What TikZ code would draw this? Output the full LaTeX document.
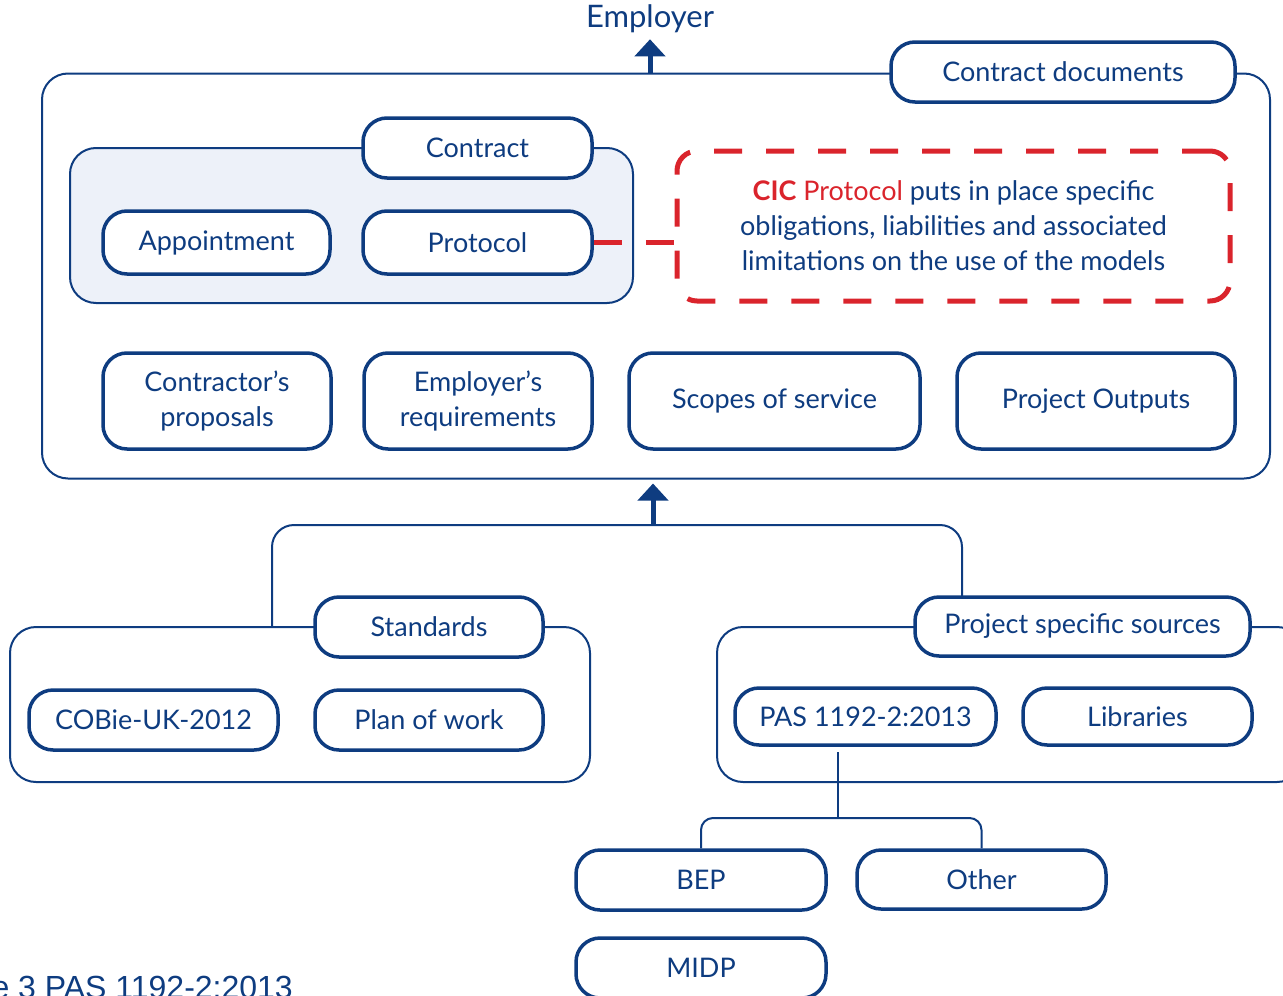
\documentclass[tikz,border=0pt]{standalone}
\usepackage{fontspec}
\setmainfont{Lato}
\newfontfamily\capfont{Liberation Sans}
\usetikzlibrary{arrows.meta}
\definecolor{pasblue}{RGB}{14,60,128}
\definecolor{cicred}{RGB}{218,36,44}
\definecolor{grpfill}{RGB}{237,241,249}

\begin{document}
\begin{tikzpicture}[x=1pt,y=-1pt,
  every node/.style={text=pasblue,font=\fontsize{27}{35}\selectfont},
  box/.style={draw=pasblue,line width=3.5pt,rounded corners=24pt,fill=white,align=center,inner sep=0pt},
  grp/.style={draw=pasblue,line width=2pt,rounded corners=26pt,inner sep=0pt},
  link/.style={draw=pasblue,line width=2pt},
  uparrow/.style={pasblue,line width=5pt,-{Triangle[width=30pt,length=17pt]}},
  cicdash/.style={draw=cicred,line width=5pt,dash pattern=on 28pt off 24pt}]

  \clip (0,0) rectangle (1283,996);

  % contract documents
  \node[grp,minimum width=1228pt,minimum height=405pt] (frame) at (656,276) {};
  \node[box,minimum width=344pt,minimum height=60pt] (cdocs) at (1063,72) {Contract documents};
  \node[inner sep=2pt,font=\fontsize{31}{35}\selectfont] (emp) at (650,19) {Employer};
  \draw[uparrow] (frame.north -| emp.south) -- ([yshift=-4pt]emp.south);

  \node[grp,fill=grpfill,minimum width=563pt,minimum height=155pt] (cgrp) at (351.5,225.5) {};
  \node[box,minimum width=229pt,minimum height=60pt] (contract) at (477.5,148) {Contract};
  \node[box,minimum width=227pt,minimum height=63pt] (appt) at (216.5,242.5) {Appointment};
  \node[box,minimum width=229pt,minimum height=63pt] (prot) at (477.5,242.5) {Protocol};

  \node[cicdash,rounded corners=20pt,align=center,inner sep=0pt,
    minimum width=553pt,minimum height=150pt] (cic) at (953.5,226)
    {\textcolor{cicred}{\textbf{CIC} Protocol} puts in place specific\\
     obligations, liabilities and associated\\
     limitations on the use of the models};
  \draw[cicdash] (prot.east) -- (prot.east -| cic.west);

  \node[box,minimum width=228pt,minimum height=96pt] (cprop) at (217,401) {Contractor’s\\proposals};
  \node[box,minimum width=228pt,minimum height=96pt] (ereq) at (478,401) {Employer’s\\requirements};
  \node[box,minimum width=291pt,minimum height=96pt] (scope) at (774.5,401) {Scopes of service};
  \node[box,minimum width=278pt,minimum height=96pt] (outp) at (1096,401) {Project Outputs};

  % sources
  \node[grp,minimum width=580pt,minimum height=155pt] (stdgrp) at (300,704.5) {};
  \node[grp,minimum width=586pt,minimum height=155pt] (psgrp) at (1010,704.5) {};

  \coordinate (hub) at (653,525);
  \coordinate (lft) at (272,627);
  \coordinate (rgt) at (962,600);
  \draw[link,rounded corners=22pt] (lft) |- (hub) -| (rgt);
  \draw[uparrow,shorten >=4pt] (hub) -- (hub |- frame.south);

  \node[box,minimum width=228pt,minimum height=60pt] (std) at (429,627) {Standards};
  \node[box,minimum width=249pt,minimum height=60pt] (cobie) at (153.5,720) {COBie-UK-2012};
  \node[box,minimum width=228pt,minimum height=60pt] (plan) at (429,720) {Plan of work};

  \node[box,minimum width=335pt,minimum height=59pt] (psrc) at (1082.5,626.5) {Project specific sources};
  \node[box,minimum width=261pt,minimum height=57pt] (pas) at (865.5,716.5) {PAS 1192-2:2013};
  \node[box,minimum width=229pt,minimum height=57pt] (lib) at (1137.5,716.5) {Libraries};

  \node[box,minimum width=250pt,minimum height=60pt] (bep) at (701,880) {BEP};
  \node[box,minimum width=249pt,minimum height=59pt] (other) at (981.5,879.5) {Other};
  \node[box,minimum width=250pt,minimum height=60pt] (midp) at (701,968) {MIDP};

  \coordinate (pasfoot) at (838,752);
  \coordinate (split) at (838,818);
  \draw[link] (pasfoot) -- (split);
  \draw[link,rounded corners=12pt] (bep.north) |- (split) -| (other.north);

  \node[anchor=base east,inner sep=0pt,font=\capfont\fontsize{32}{36}\selectfont] (cap)
    at (293,998) {Figure 3 PAS 1192-2:2013};

\end{tikzpicture}
\end{document}
